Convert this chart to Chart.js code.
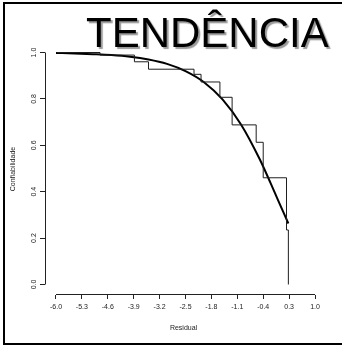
<!DOCTYPE html>
<html>
<head>
<meta charset="utf-8">
<script src="https://cdn.jsdelivr.net/npm/chart.js@4/dist/chart.umd.min.js"></script>
<style>
html,body{margin:0;padding:0;background:#fff;}
#wrap{width:342px;height:346px;}
</style>
</head>
<body>
<div id="wrap"><canvas id="c" width="342" height="346"></canvas></div>
<script>
// ---- data ----
const stepX = [-5.98, -4.81, -3.88, -3.50, -2.27, -2.08, -1.57, -1.24, -0.59, -0.40, 0.23, 0.28];
const stepY = [1.000, 0.989, 0.960, 0.928, 0.906, 0.873, 0.807, 0.688, 0.613, 0.460, 0.235, 0.000];
const curveX = [-6.0, -5.5, -5.0, -4.5, -4.0, -3.5, -3.0, -2.5, -2.0, -1.5, -1.0, -0.5, -0.2, 0.0, 0.28];
const curveY = [0.998, 0.996, 0.993, 0.989, 0.982, 0.970, 0.951, 0.920, 0.872, 0.798, 0.690, 0.542, 0.437, 0.364, 0.263];
const xTicks = [-6.0, -5.3, -4.6, -3.9, -3.2, -2.5, -1.8, -1.1, -0.4, 0.3, 1.0];
const xTickLabels = ["-6.0", "-5.3", "-4.6", "-3.9", "-3.2", "-2.5", "-1.8", "-1.1", "-0.4", "0.3", "1.0"];
const yTicks = [0.0, 0.2, 0.4, 0.6, 0.8, 1.0];
const yTickLabels = ["0.0", "0.2", "0.4", "0.6", "0.8", "1.0"];
const titleText = "TENDÊNCIA";
const xTitle = "Residual";
const yTitle = "Confiabilidade";

const FONT = '"Liberation Sans", Arial, Helvetica, sans-serif';
Chart.defaults.font.family = FONT;

const stepData = stepX.map((x, i) => ({x: x, y: stepY[i]}));
const curveData = curveX.map((x, i) => ({x: x, y: curveY[i]}));

const decor = {
  id: 'decor',
  beforeDraw(chart) {
    const ctx = chart.ctx;
    ctx.save();
    ctx.fillStyle = '#fff';
    ctx.fillRect(0, 0, chart.width, chart.height);
    ctx.restore();
  },
  afterDraw(chart) {
    const ctx = chart.ctx;
    const xs = chart.scales.x, ys = chart.scales.y;
    const ca = chart.chartArea;
    ctx.save();
    ctx.strokeStyle = '#222';
    ctx.lineWidth = 1;
    // x axis line
    const yb = Math.round(ca.bottom) - 0.5;
    ctx.beginPath();
    ctx.moveTo(xs.getPixelForValue(xTicks[0]), yb);
    ctx.lineTo(xs.getPixelForValue(xTicks[xTicks.length - 1]), yb);
    ctx.stroke();
    // y axis line
    const xl = Math.round(ca.left) + 0.5;
    ctx.beginPath();
    ctx.moveTo(xl, ys.getPixelForValue(yTicks[0]));
    ctx.lineTo(xl, ys.getPixelForValue(yTicks[yTicks.length - 1]));
    ctx.stroke();
    // y tick labels (rotated, R style)
    ctx.fillStyle = '#222';
    ctx.font = '7px ' + FONT;
    ctx.textAlign = 'center';
    ctx.textBaseline = 'middle';
    yTicks.forEach((v, i) => {
      ctx.save();
      ctx.translate(34, ys.getPixelForValue(v));
      ctx.rotate(-Math.PI / 2);
      ctx.fillText(yTickLabels[i], 0, 0);
      ctx.restore();
    });
    // big title with shadow
    ctx.save();
    ctx.font = '42px ' + FONT;
    ctx.textAlign = 'left';
    ctx.textBaseline = 'alphabetic';
    ctx.shadowColor = 'rgba(0,0,0,0.4)';
    ctx.shadowOffsetX = 2;
    ctx.shadowOffsetY = 2;
    ctx.shadowBlur = 1;
    ctx.fillStyle = '#000';
    ctx.fillText(titleText, 86, 46.5);
    ctx.restore();
    // frame
    ctx.strokeStyle = '#000';
    ctx.lineWidth = 2;
    ctx.strokeRect(4, 3, 400, 341);
    ctx.restore();
  }
};

new Chart(document.getElementById('c'), {
  type: 'scatter',
  data: {
    datasets: [
      {
        data: stepData,
        showLine: true,
        stepped: 'before',
        borderColor: '#1e1e1e',
        borderWidth: 1,
        pointRadius: 0,
        fill: false
      },
      {
        data: curveData,
        showLine: true,
        cubicInterpolationMode: 'monotone',
        borderColor: '#000',
        borderWidth: 2,
        pointRadius: 0,
        fill: false
      }
    ]
  },
  options: {
    responsive: false,
    animation: false,
    devicePixelRatio: 1,
    layout: {padding: {top: 43, right: 20, bottom: 0, left: 0}},
    plugins: {legend: {display: false}, tooltip: {enabled: false}, title: {display: false}},
    scales: {
      x: {
        type: 'linear',
        min: -6.297,
        max: 1.189,
        afterBuildTicks: s => { s.ticks = xTicks.map(v => ({value: v})); },
        afterFit: s => { s.height = 51; },
        ticks: {
          font: {size: 7},
          color: '#222',
          padding: 4,
          autoSkip: false,
          maxRotation: 0,
          minRotation: 0,
          callback: (v, i) => xTickLabels[i]
        },
        grid: {display: true, drawOnChartArea: false, drawTicks: true, tickLength: 4, color: '#222'},
        border: {display: false},
        title: {display: true, text: xTitle, font: {size: 7}, color: '#222', padding: {top: 0, bottom: 14}}
      },
      y: {
        type: 'linear',
        min: -0.0453,
        max: 1.041,
        afterBuildTicks: s => { s.ticks = yTicks.map(v => ({value: v})); },
        afterFit: s => { s.width = 45; },
        ticks: {display: false},
        grid: {display: true, drawOnChartArea: false, drawTicks: true, tickLength: 5, color: '#222'},
        border: {display: false},
        title: {display: true, text: yTitle, font: {size: 7}, color: '#222', padding: {top: 9, bottom: 0}}
      }
    }
  },
  plugins: [decor]
});
</script>
</body>
</html>
